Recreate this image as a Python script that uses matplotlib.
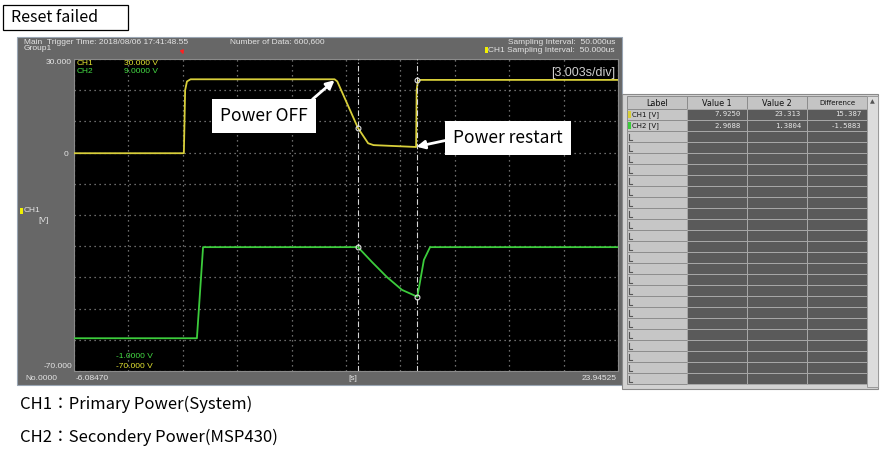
import matplotlib
matplotlib.use("Agg")
import matplotlib.pyplot as plt
from matplotlib.patches import Rectangle

# time axis of the recorder screen [s]
t_start = -6.08470
t_end = 23.94525
s_per_div = 3.003

# CH1 primary power [s], [V]
ch1_t = [-6.0847, -0.02, 0.05, 0.15, 0.35, 8.30, 8.45, 9.59, 10.15, 10.45, 12.80, 12.83, 12.90, 13.05, 23.945]
ch1_v = [-0.2, -0.2, 20.0, 22.8, 23.5, 23.5, 22.8, 7.9, 3.0, 2.4, 1.8, 20.0, 23.0, 23.3, 23.3]

# CH2 secondary power (MSP430)
ch2_t = [-6.0847, 0.70, 1.04, 9.59, 10.37, 11.19, 12.02, 12.87, 13.23, 13.57, 23.945]
ch2_v = [0.05, 0.05, 2.97, 2.97, 2.49, 2.01, 1.60, 1.38, 2.56, 2.97, 2.97]

# cursors and the value table
cursor_t = [9.59, 12.87]
labels = ["CH1 [V]", "CH2 [V]"]
value1 = [7.9250, 2.9688]
value2 = [23.313, 1.3804]
difference = [15.387, -1.5883]
n_rows = 25

W, H = 880, 458
c1 = "#d8cf3a"
c2 = "#3ccc3c"
fg = "#e4e4e4"
ui = "Liberation Sans"

fig = plt.figure(figsize=(W / 100, H / 100), dpi=100)
fig.patch.set_facecolor("white")

# background layer in pixel units
bg = fig.add_axes([0, 0, 1, 1], zorder=0)
bg.set_xlim(0, W)
bg.set_ylim(H, 0)
bg.axis("off")

def rect(x0, y0, x1, y1, **kw):
    bg.add_patch(Rectangle((x0, y0), x1 - x0, y1 - y0, **kw))

def txt(x, y, s, **kw):
    kw.setdefault("family", ui)
    kw.setdefault("fontsize", 6.0)
    kw.setdefault("color", fg)
    kw.setdefault("va", "center")
    bg.text(x, y, s, **kw)

# title box
rect(3, 5, 128, 30, facecolor="white", edgecolor="black", lw=0.9)
bg.text(11, 17.5, "Reset failed", fontsize=11.5, va="center", family=["Noto Sans CJK JP", "DejaVu Sans"])

# scope window frame
rect(17, 37, 622, 385, facecolor="#676767", edgecolor="#9aa6b4", lw=0.8)
txt(24, 42, "Main  Trigger Time: 2018/08/06 17:41:48.55")
txt(24, 49, "Group1")
txt(230, 42, "Number of Data: 600,600")
txt(615, 42, "Sampling Interval:  50.000us", ha="right")
txt(615, 50, "CH1 Sampling Interval:  50.000us", ha="right")
rect(485, 47, 488, 53, facecolor="#f0f000", lw=0)
txt(72, 63, "30.000", ha="right")
txt(68, 154, "0", ha="right")
txt(72, 367, "-70.000", ha="right")
rect(20, 208, 23, 214, facecolor="#f0f000", lw=0)
txt(24, 210, "CH1")
txt(38, 220, "[V]")
txt(25, 379, "No.0000")
txt(76, 379, "-6.08470")
txt(348, 379, "[s]")
txt(617, 379, "23.94525", ha="right")

# value table
rect(622, 94, 878, 389, facecolor="#d2d2d2", edgecolor="#8a8a8a", lw=0.8)
cols = [627, 687, 747, 807, 867]
heads = ["Label", "Value 1", "Value 2", "Difference"]
for i, h in enumerate(heads):
    rect(cols[i], 96, cols[i + 1], 109, facecolor="#c4c4c4", edgecolor="#8c8c8c", lw=0.7)
    bg.text((cols[i] + cols[i + 1]) / 2, 103, h, fontsize=5.8 if i < 3 else 5.0,
            ha="center", va="center", family="DejaVu Sans", color="#111111")
for r in range(n_rows):
    y0 = 109 + r * 11
    y1 = min(y0 + 11, 387)
    rect(cols[0], y0, cols[1], y1, facecolor="#c6c6c6", edgecolor="#8e8e8e", lw=0.7)
    for i in range(1, 4):
        rect(cols[i], y0, cols[i + 1], y1, facecolor="#5a5a5a", edgecolor="#a8a8a8", lw=0.7)
    if r < len(labels):
        rect(628, y0 + 2, 631, y0 + 9, facecolor=[c1, c2][r], lw=0)
        bg.text(632, y0 + 5.5, labels[r], fontsize=5.0, va="center", family="DejaVu Sans", color="#111111")
        vals = [value1[r], value2[r], difference[r]]
        fmts = ["%.4f" if abs(v) < 10 else "%.3f" for v in vals]
        for i, v in enumerate(vals):
            bg.text(cols[i + 2] - 6, y0 + 5.5, fmts[i] % v, fontsize=5.2, ha="right", va="center",
                    family="DejaVu Sans Mono", color="#e8e8e8")
    else:
        bg.plot([629, 629, 632], [y0 + 3, y0 + 9, y0 + 9], color="#555555", lw=0.8)
rect(867, 96, 878, 387, facecolor="#dcdcdc", edgecolor="#9a9a9a", lw=0.7)
bg.text(872.5, 102, "\u25b2", fontsize=4.5, ha="center", va="center", color="#555555")

# bottom captions
cjk = ["Noto Sans CJK JP", "DejaVu Sans"]
bg.text(20, 404, "CH1：Primary Power(System)", fontsize=12, va="center", family=cjk)
bg.text(20, 437, "CH2：Secondery Power(MSP430)", fontsize=12, va="center", family=cjk)

# scope screen
ax = fig.add_axes([74 / W, 1 - 371 / H, 544 / W, 312 / H], zorder=2)
ax.set_facecolor("black")
ax.set_xlim(t_start, t_end)
ax.set_ylim(-70, 30)
ax.set_xticks([t_start + s_per_div * k for k in range(11)])
ax.set_yticks(range(-70, 31, 10))
ax.tick_params(length=0, labelleft=False, labelbottom=False)
ax.grid(True, color="#8e8e8e", linestyle=(0, (1, 3)), linewidth=0.9)
for sp in ax.spines.values():
    sp.set_color("#8a8a8a")

ax2 = ax.twinx()
ax2.set_ylim(-1, 9)
ax2.set_yticks([])
for sp in ax2.spines.values():
    sp.set_visible(False)

ax.plot(ch1_t, ch1_v, color=c1, lw=1.3, zorder=3)
ax2.plot(ch2_t, ch2_v, color=c2, lw=1.3, zorder=3)

for t in cursor_t:
    ax.axvline(t, color="#d8d8d8", lw=0.8, linestyle=(0, (5, 2, 1, 2)), zorder=4)
ax.plot(cursor_t, [value1[0], value2[0]], "o", ms=3.5, mfc="none", mec="#e0e0e0", mew=0.8, zorder=5)
ax2.plot(cursor_t, [value1[1], value2[1]], "o", ms=3.5, mfc="none", mec="#e0e0e0", mew=0.8, zorder=5)

ax.text(0.995, 0.955, "[3.003s/div]", transform=ax.transAxes, ha="right", va="center",
        fontsize=9, color="#cfcfcf", family=ui)
ax.text(0.004, 0.987, "CH1", transform=ax.transAxes, va="center", fontsize=6, color="#e6e632", family=ui)
ax.text(0.092, 0.987, "30.000 V", transform=ax.transAxes, va="center", fontsize=6, color="#e6e632", family=ui)
ax.text(0.004, 0.961, "CH2", transform=ax.transAxes, va="center", fontsize=6, color="#44dd44", family=ui)
ax.text(0.092, 0.961, "9.0000 V", transform=ax.transAxes, va="center", fontsize=6, color="#44dd44", family=ui)
ax.text(0.145, 0.045, "-1.0000 V", transform=ax.transAxes, ha="right", va="center", fontsize=6, color="#44dd44", family=ui)
ax.text(0.145, 0.016, "-70.000 V", transform=ax.transAxes, ha="right", va="center", fontsize=6, color="#e6e632", family=ui)

# trigger mark
ax.annotate("", xy=(0, 1.006), xycoords=("data", "axes fraction"), xytext=(-2, 6), textcoords="offset points",
            arrowprops=dict(arrowstyle="-|>", color="#ff2020", lw=1, mutation_scale=5), annotation_clip=False)

box = dict(boxstyle="square,pad=0.45", facecolor="white", edgecolor="none")
ax.annotate("Power OFF", xy=(8.30, 23.2), xytext=(4.40, 11.7), fontsize=12.5, ha="center", va="center",
            family=cjk, bbox=box, zorder=6,
            arrowprops=dict(arrowstyle="-|>", color="white", lw=2, mutation_scale=12,
                            relpos=(0.95, 1.0), shrinkA=0, shrinkB=0))
ax.annotate("Power restart", xy=(12.82, 1.9), xytext=(17.87, 4.7), fontsize=12.5, ha="center", va="center",
            family=cjk, bbox=box, zorder=6,
            arrowprops=dict(arrowstyle="-|>", color="white", lw=2, mutation_scale=12,
                            relpos=(0.0, 0.45), shrinkA=0, shrinkB=0))

fig.savefig("out.png", dpi=100)
